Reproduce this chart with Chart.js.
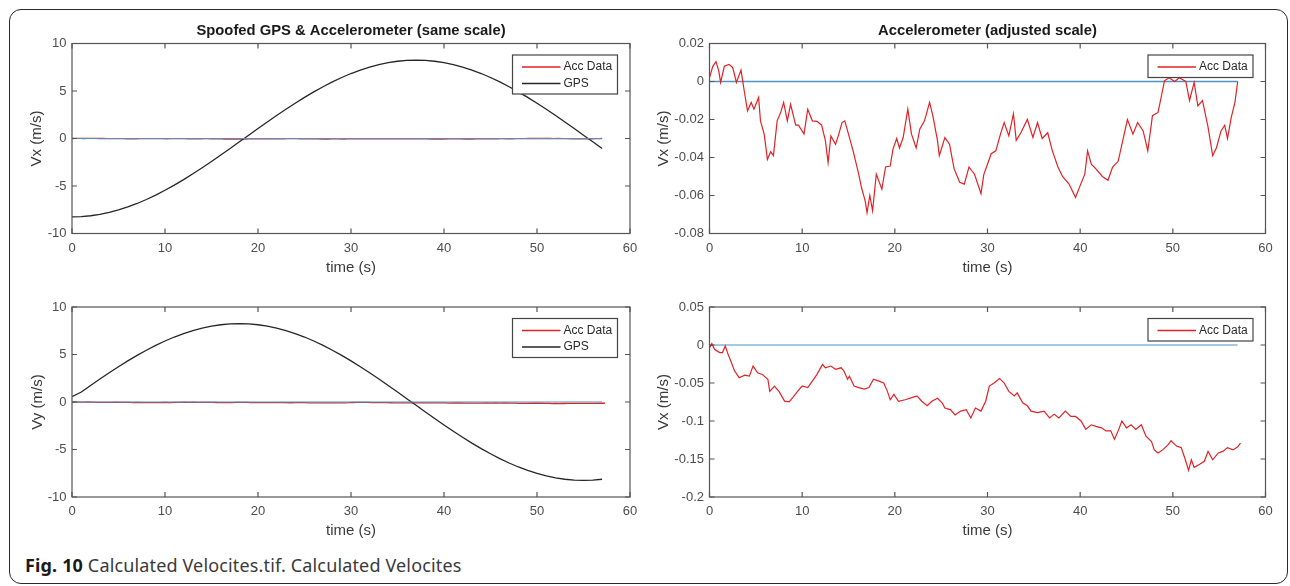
<!DOCTYPE html>
<html>
<head>
<meta charset="utf-8">
<script src="https://cdn.jsdelivr.net/npm/chart.js@4.4.1/dist/chart.umd.min.js"></script>
<style>
  html, body { margin: 0; padding: 0; background: #fff; }
  #fig { position: relative; width: 1290px; height: 586px; overflow: hidden; }
  #frame { position: absolute; left: 9px; top: 9px; width: 1279px; height: 575px; border: 1.5px solid #2a2a2a; border-radius: 12px; box-sizing: border-box; }
  canvas { position: absolute; }
  #caption { position: absolute; left: 25px; top: 554px; line-height: 22px; font-family: "Noto Sans", "Open Sans", sans-serif; font-size: 18px; letter-spacing: 0.15px; color: #3a3a3a; white-space: nowrap; }
  #caption b { color: #1a1a1a; }
</style>
</head>
<body>
<div id="fig">
  <div id="frame"></div>
  <canvas id="tl" width="645" height="290" style="left:0;top:0"></canvas>
  <canvas id="tr" width="645" height="290" style="left:645px;top:0"></canvas>
  <canvas id="bl" width="645" height="256" style="left:0;top:290px"></canvas>
  <canvas id="br" width="645" height="256" style="left:645px;top:290px"></canvas>
  <div id="caption"><b>Fig. 10</b> Calculated Velocites.tif. Calculated Velocites</div>
</div>
<script>
// GPS velocities (m/s), one reading per second
const gpsTime = [0, 1, 2, 3, 4, 5, 6, 7, 8, 9, 10, 11, 12, 13, 14, 15, 16, 17, 18, 19,
  20, 21, 22, 23, 24, 25, 26, 27, 28, 29, 30, 31, 32, 33, 34, 35, 36, 37, 38, 39,
  40, 41, 42, 43, 44, 45, 46, 47, 48, 49, 50, 51, 52, 53, 54, 55, 56, 57];
const gpsVx = [-8.25, -8.22, -8.13, -7.98, -7.78, -7.52, -7.20, -6.84, -6.42, -5.96,
  -5.45, -4.91, -4.33, -3.71, -3.08, -2.42, -1.74, -1.05, -0.35, 0.35,
  1.05, 1.74, 2.42, 3.08, 3.71, 4.33, 4.91, 5.45, 5.96, 6.42,
  6.84, 7.20, 7.52, 7.78, 7.98, 8.13, 8.22, 8.25, 8.22, 8.13,
  7.98, 7.78, 7.52, 7.20, 6.84, 6.42, 5.96, 5.45, 4.91, 4.33,
  3.71, 3.08, 2.42, 1.74, 1.05, 0.35, -0.35, -1.05];
const gpsVy = [0.55, 1.05, 1.74, 2.42, 3.08, 3.71, 4.33, 4.91, 5.45, 5.96,
  6.42, 6.84, 7.20, 7.52, 7.78, 7.98, 8.13, 8.22, 8.25, 8.22,
  8.13, 7.98, 7.78, 7.52, 7.20, 6.84, 6.42, 5.96, 5.45, 4.91,
  4.33, 3.71, 3.08, 2.42, 1.74, 1.05, 0.35, -0.35, -1.05, -1.74,
  -2.42, -3.08, -3.71, -4.33, -4.91, -5.45, -5.96, -6.42, -6.84, -7.20,
  -7.52, -7.78, -7.98, -8.13, -8.22, -8.25, -8.22, -8.13];

// accelerometer-integrated velocity, x
const accXTime = [0, 0.36, 0.7, 1.0, 1.2, 1.6, 2.1, 2.5, 2.9, 3.4,
  3.75, 4.1, 4.5, 4.8, 5.3, 5.5, 5.9, 6.25, 6.6, 6.9,
  7.3, 7.7, 8.0, 8.4, 8.75, 9.3, 9.6, 10.2, 10.6, 11.1,
  11.6, 12.1, 12.5, 12.8, 13.1, 13.6, 13.9, 14.3, 14.6, 15.0,
  15.5, 16.1, 16.4, 16.8, 17.0, 17.3, 17.6, 18.0, 18.4, 18.6,
  19.0, 19.5, 19.8, 20.2, 20.5, 20.9, 21.4, 21.8, 22.3, 22.7,
  23.2, 23.75, 24.1, 24.6, 24.8, 25.4, 25.9, 26.4, 27.0, 27.5,
  28.0, 28.6, 29.3, 29.6, 30.4, 30.9, 31.4, 31.8, 32.3, 32.8,
  33.1, 33.6, 34.3, 34.9, 35.4, 35.9, 36.5, 37.0, 37.6, 38.1,
  38.8, 39.5, 39.9, 40.5, 40.8, 41.2, 41.7, 42.4, 43.0, 43.5,
  44.1, 44.6, 45.1, 45.7, 46.2, 46.8, 47.3, 47.8, 48.4, 48.7,
  49.1, 49.6, 50.2, 50.7, 51.4, 51.8, 52.3, 52.7, 53.2, 53.8,
  54.3, 54.7, 55.2, 55.6, 55.9, 56.3, 56.7, 57.0];
const accXVals = [0.002, 0.008, 0.0105, 0.0056, -0.0005, 0.008, 0.009, 0.0074, -0.0005, 0.006,
  -0.005, -0.0155, -0.011, -0.0146, -0.0084, -0.0207, -0.0277, -0.041, -0.037, -0.039,
  -0.0207, -0.016, -0.011, -0.0207, -0.012, -0.023, -0.023, -0.0277, -0.0146, -0.0207,
  -0.021, -0.023, -0.031, -0.0426, -0.0286, -0.033, -0.0286, -0.0216, -0.0207, -0.0277,
  -0.0365, -0.0488, -0.0558, -0.0628, -0.069, -0.060, -0.068, -0.0488, -0.054, -0.0567,
  -0.045, -0.0445, -0.0356, -0.030, -0.035, -0.0295, -0.0146, -0.0277, -0.035, -0.025,
  -0.0207, -0.011, -0.018, -0.031, -0.039, -0.0295, -0.033, -0.046, -0.053, -0.054,
  -0.045, -0.0488, -0.059, -0.049, -0.038, -0.0365, -0.0277, -0.0216, -0.0286, -0.017,
  -0.031, -0.027, -0.020, -0.0295, -0.0216, -0.030, -0.027, -0.0365, -0.045, -0.050,
  -0.054, -0.061, -0.056, -0.0488, -0.0365, -0.0435, -0.046, -0.050, -0.052, -0.045,
  -0.042, -0.031, -0.020, -0.0277, -0.0216, -0.026, -0.0365, -0.018, -0.0163, -0.0093,
  0.0004, 0.002, 0, 0.002, 0, -0.010, -0.0005, -0.0128, -0.010, -0.024,
  -0.039, -0.035, -0.026, -0.023, -0.030, -0.019, -0.011, 0];

// accelerometer-integrated velocity, y
const accYTime = [0, 0.25, 0.54, 1.1, 1.4, 1.7, 2.0, 2.3, 2.7, 3.2,
  3.8, 4.3, 4.7, 5.2, 5.7, 6.3, 6.5, 7.0, 7.5, 8.1,
  8.6, 9.0, 9.5, 10.0, 10.6, 11.1, 11.6, 12.2, 12.5, 13.1,
  13.6, 14.2, 14.5, 14.9, 15.1, 15.6, 16.1, 16.7, 17.2, 17.7,
  18.3, 18.8, 19.2, 19.5, 19.9, 20.4, 21.1, 21.9, 22.4, 22.9,
  23.5, 24.0, 24.6, 25.1, 25.4, 26.0, 26.5, 27.1, 27.7, 28.2,
  28.7, 29.3, 29.8, 30.2, 30.7, 31.3, 31.8, 32.3, 32.9, 33.2,
  33.8, 34.3, 34.7, 35.4, 36.1, 36.7, 37.2, 37.7, 38.4, 39.0,
  39.5, 40.1, 40.6, 41.2, 41.7, 42.3, 42.8, 43.3, 43.7, 44.1,
  44.5, 45.0, 45.5, 46.0, 46.6, 47.1, 47.7, 48.0, 48.4, 48.9,
  49.5, 49.8, 50.4, 50.9, 51.3, 51.7, 52.0, 52.3, 52.9, 53.4,
  53.8, 54.3, 54.9, 55.4, 55.9, 56.5, 57.0, 57.3];
const accYVals = [-0.0035, 0.0018, -0.0057, -0.010, -0.010, -0.0013, -0.012, -0.021, -0.034, -0.043,
  -0.0396, -0.041, -0.0277, -0.0365, -0.0387, -0.045, -0.061, -0.054, -0.061, -0.0738,
  -0.0747, -0.069, -0.061, -0.054, -0.056, -0.0475, -0.0387, -0.0255, -0.030, -0.0277,
  -0.032, -0.030, -0.034, -0.045, -0.041, -0.054, -0.056, -0.058, -0.056, -0.045,
  -0.0475, -0.050, -0.061, -0.072, -0.065, -0.074, -0.072, -0.069, -0.067, -0.074,
  -0.080, -0.074, -0.070, -0.076, -0.083, -0.085, -0.092, -0.087, -0.085, -0.096,
  -0.083, -0.087, -0.074, -0.054, -0.050, -0.044, -0.050, -0.061, -0.067, -0.063,
  -0.076, -0.080, -0.087, -0.089, -0.087, -0.096, -0.091, -0.096, -0.087, -0.094,
  -0.094, -0.100, -0.111, -0.105, -0.107, -0.109, -0.113, -0.113, -0.124, -0.113,
  -0.100, -0.109, -0.105, -0.111, -0.105, -0.120, -0.127, -0.138, -0.142, -0.138,
  -0.131, -0.126, -0.133, -0.135, -0.149, -0.165, -0.151, -0.161, -0.157, -0.153,
  -0.140, -0.151, -0.142, -0.140, -0.135, -0.138, -0.134, -0.129];

// reference zero line
const zeroTime = [0, 57];
const zeroVals = [0, 0];

const RED = '#e02226';
const BLUE = '#4f93c6';
const BLACK = '#262626';
const FONT = '"Liberation Sans", Arial, sans-serif';

const pts = (xs, ys) => xs.map((x, i) => ({ x: x, y: ys[i] }));

// MATLAB style box with inward ticks on all four sides
const matlabAxes = {
  id: 'matlabAxes',
  afterDatasetsDraw(chart) {
    const { ctx, chartArea: a, scales } = chart;
    ctx.save();
    ctx.strokeStyle = '#555';
    ctx.lineWidth = 1.2;
    ctx.strokeRect(a.left, a.top, a.right - a.left, a.bottom - a.top);
    ctx.beginPath();
    scales.x.ticks.forEach(t => {
      const px = scales.x.getPixelForValue(t.value);
      ctx.moveTo(px, a.bottom); ctx.lineTo(px, a.bottom - 5);
      ctx.moveTo(px, a.top); ctx.lineTo(px, a.top + 5);
    });
    scales.y.ticks.forEach(t => {
      const py = scales.y.getPixelForValue(t.value);
      ctx.moveTo(a.left, py); ctx.lineTo(a.left + 5, py);
      ctx.moveTo(a.right, py); ctx.lineTo(a.right - 5, py);
    });
    ctx.stroke();
    ctx.restore();
  }
};

// boxed legend in the top-right corner of the plot
const boxLegend = {
  id: 'boxLegend',
  afterDatasetsDraw(chart) {
    const items = chart.data.datasets.filter(d => d.inLegend);
    if (!items.length) return;
    const { ctx, chartArea: a } = chart;
    const w = 105, h = 22.5 + 16.5 * (items.length - 1);
    const x0 = a.right - 12.5 - w, y0 = a.top + 11.5;
    ctx.save();
    ctx.fillStyle = '#fff';
    ctx.fillRect(x0, y0, w, h);
    ctx.strokeStyle = '#444';
    ctx.lineWidth = 1.2;
    ctx.strokeRect(x0, y0, w, h);
    ctx.font = '12px ' + FONT;
    ctx.textBaseline = 'middle';
    items.forEach((d, i) => {
      const cy = y0 + 12 + 16.5 * i;
      ctx.strokeStyle = d.borderColor;
      ctx.lineWidth = 1.5;
      ctx.beginPath();
      ctx.moveTo(x0 + 9.5, cy);
      ctx.lineTo(x0 + 48, cy);
      ctx.stroke();
      ctx.fillStyle = '#2a2a2a';
      ctx.fillText(d.label, x0 + 51, cy);
    });
    ctx.restore();
  }
};

function makeChart(id, L, cfg) {
  const tickSize = 13, axisSize = 15, titleSize = 14.8;
  const lhTick = tickSize * 1.2, lhAxis = axisSize * 1.2, lhTitle = titleSize * 1.2;
  const [aL, aT, aR, aB] = L.area;
  const padLeft = L.yTitleX - lhAxis / 2;
  const padTop = cfg.title ? L.titleY - lhTitle / 2 : aT;
  const fmt = v => String(+Number(v).toFixed(4));

  return new Chart(document.getElementById(id), {
    type: 'line',
    data: { datasets: cfg.datasets },
    options: {
      responsive: false,
      animation: false,
      devicePixelRatio: 1,
      layout: { padding: { left: padLeft, right: L.w - aR, top: padTop, bottom: 0 } },
      elements: { point: { radius: 0 }, line: { tension: 0 } },
      plugins: {
        legend: { display: false },
        tooltip: { enabled: false },
        title: {
          display: !!cfg.title,
          text: cfg.title || '',
          fullSize: false,
          color: '#1a1a1a',
          font: { family: FONT, size: titleSize, weight: 'bold' },
          padding: { top: 0, bottom: cfg.title ? aT - padTop - lhTitle : 0 }
        }
      },
      scales: {
        x: {
          type: 'linear', min: 0, max: 60,
          grid: { display: false, drawTicks: false }, border: { display: false },
          ticks: { stepSize: 10, padding: L.xTickY - aB - lhTick / 2, color: '#4d4d4d', font: { family: FONT, size: tickSize }, callback: fmt },
          title: { display: true, text: 'time (s)', color: '#3a3a3a', font: { family: FONT, size: axisSize }, padding: { top: 0, bottom: L.h - L.xTitleY - lhAxis / 2 } },
          afterFit: s => { s.height = L.h - aB; }
        },
        y: {
          min: cfg.yMin, max: cfg.yMax,
          grid: { display: false, drawTicks: false }, border: { display: false },
          ticks: { stepSize: cfg.yStep, padding: 5.5, color: '#4d4d4d', font: { family: FONT, size: tickSize }, callback: fmt },
          title: { display: true, text: cfg.yLabel, color: '#3a3a3a', font: { family: FONT, size: axisSize }, padding: 0 },
          afterFit: s => { s.width = aL - padLeft; }
        }
      }
    },
    plugins: [matlabAxes, boxLegend]
  });
}

const line = (label, xs, ys, color, width, order, inLegend) => ({
  label: label, data: pts(xs, ys), borderColor: color, borderWidth: width,
  order: order, inLegend: inLegend, fill: false
});

makeChart('tl', { w: 645, h: 290, area: [72, 43.5, 630, 233.5], yTitleX: 37, xTickY: 248, xTitleY: 268, titleY: 31 }, {
  title: 'Spoofed GPS & Accelerometer (same scale)', yLabel: 'Vx (m/s)', yMin: -10, yMax: 10, yStep: 5,
  datasets: [
    line('Acc Data', accXTime, accXVals, RED, 1.3, 2, true),
    line('GPS', gpsTime, gpsVx, BLACK, 1.3, 1, true),
    line('zero', zeroTime, zeroVals, BLUE, 1.2, 0, false)
  ]
});

makeChart('tr', { w: 645, h: 290, area: [709.5 - 645, 43.5, 620.5, 233.5], yTitleX: 18.5, xTickY: 248, xTitleY: 268, titleY: 31 }, {
  title: 'Accelerometer (adjusted scale)', yLabel: 'Vx (m/s)', yMin: -0.08, yMax: 0.02, yStep: 0.02,
  datasets: [
    line('Acc Data', accXTime, accXVals, RED, 1.2, 0, true),
    line('zero', zeroTime, zeroVals, BLUE, 1.6, 1, false)
  ]
});

makeChart('bl', { w: 645, h: 256, area: [72, 17, 630, 207], yTitleX: 38, xTickY: 221, xTitleY: 241 }, {
  yLabel: 'Vy (m/s)', yMin: -10, yMax: 10, yStep: 5,
  datasets: [
    line('Acc Data', accYTime, accYVals, RED, 1.3, 2, true),
    line('GPS', gpsTime, gpsVy, BLACK, 1.3, 1, true),
    line('zero', zeroTime, zeroVals, BLUE, 1.2, 0, false)
  ]
});

makeChart('br', { w: 645, h: 256, area: [709.5 - 645, 17, 620.5, 207], yTitleX: 18.5, xTickY: 221, xTitleY: 241 }, {
  yLabel: 'Vx (m/s)', yMin: -0.2, yMax: 0.05, yStep: 0.05,
  datasets: [
    line('Acc Data', accYTime, accYVals, RED, 1.2, 0, true),
    line('zero', zeroTime, zeroVals, BLUE, 1.2, 1, false)
  ]
});
</script>
</body>
</html>
